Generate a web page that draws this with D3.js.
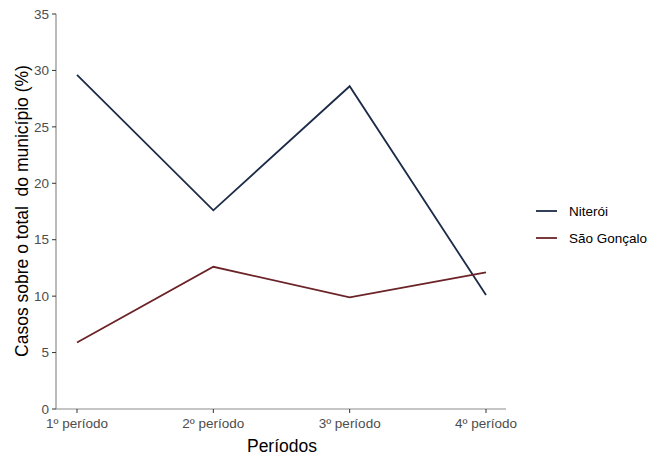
<!DOCTYPE html>
<html><head><meta charset="utf-8">
<script src="https://cdn.jsdelivr.net/npm/d3@7/dist/d3.min.js"></script>
<style>body{margin:0;background:#fff;}text{font-family:Arial,"Liberation Sans",sans-serif;white-space:pre;}</style>
</head><body><svg id="c" width="648" height="455"></svg>
<script>
const categories = ["1º período","2º período","3º período","4º período"];
const niteroi = [29.6, 17.6, 28.6, 10.1];
const saoGoncalo = [5.9, 12.6, 9.9, 12.1];
const seriesNames = ["Niterói","São Gonçalo"];
const seriesColors = ["#1c2b47","#6b2327"];
const yTicks = [0,5,10,15,20,25,30,35];

const svg = d3.select("#c");
const x = d3.scalePoint().domain(categories).range([77, 486]);
const y = d3.scaleLinear().domain([0,35]).range([409, 14]);

svg.append("line").attr("x1",56).attr("x2",56).attr("y1",14).attr("y2",409).attr("stroke","#8c8c8c").attr("stroke-width",1.2);
svg.append("line").attr("x1",56).attr("x2",506).attr("y1",409).attr("y2",409).attr("stroke","#8c8c8c").attr("stroke-width",1.2);

const yg = svg.append("g");
yTicks.forEach(t=>{
  yg.append("line").attr("x1",52).attr("x2",56).attr("y1",y(t)).attr("y2",y(t)).attr("stroke","#333").attr("stroke-width",1);
  yg.append("text").attr("x",49).attr("y",y(t)).attr("dy","0.35em").attr("text-anchor","end").attr("font-size",13.5).attr("fill","#4d4d4d").text(t);
});
const xg = svg.append("g");
categories.forEach(c=>{
  xg.append("line").attr("x1",x(c)).attr("x2",x(c)).attr("y1",409).attr("y2",413).attr("stroke","#333").attr("stroke-width",1);
  xg.append("text").attr("x",x(c)).attr("y",428).attr("text-anchor","middle").attr("font-size",13.5).attr("fill","#4d4d4d").text(c);
});

svg.append("text").attr("x",282).attr("y",452).attr("text-anchor","middle").attr("font-size",17.5).attr("fill","#000").text("Períodos");
svg.append("text").attr("transform","translate(28,211) rotate(-90)").attr("text-anchor","middle").attr("font-size",17.5).attr("fill","#000").text("Casos sobre o total  do município (%)");

const line = d3.line().x((d,i)=>x(categories[i])).y(d=>y(d));
[niteroi, saoGoncalo].forEach((s,i)=>{
  svg.append("path").attr("d",line(s)).attr("fill","none").attr("stroke",seriesColors[i]).attr("stroke-width",1.8);
});

seriesNames.forEach((n,i)=>{
  const ly = 211 + i*27;
  svg.append("line").attr("x1",536).attr("x2",557).attr("y1",ly).attr("y2",ly).attr("stroke",seriesColors[i]).attr("stroke-width",1.8);
  svg.append("text").attr("x",569).attr("y",ly).attr("dy","0.35em").attr("font-size",13.5).attr("fill","#000").text(n);
});
</script></body></html>
